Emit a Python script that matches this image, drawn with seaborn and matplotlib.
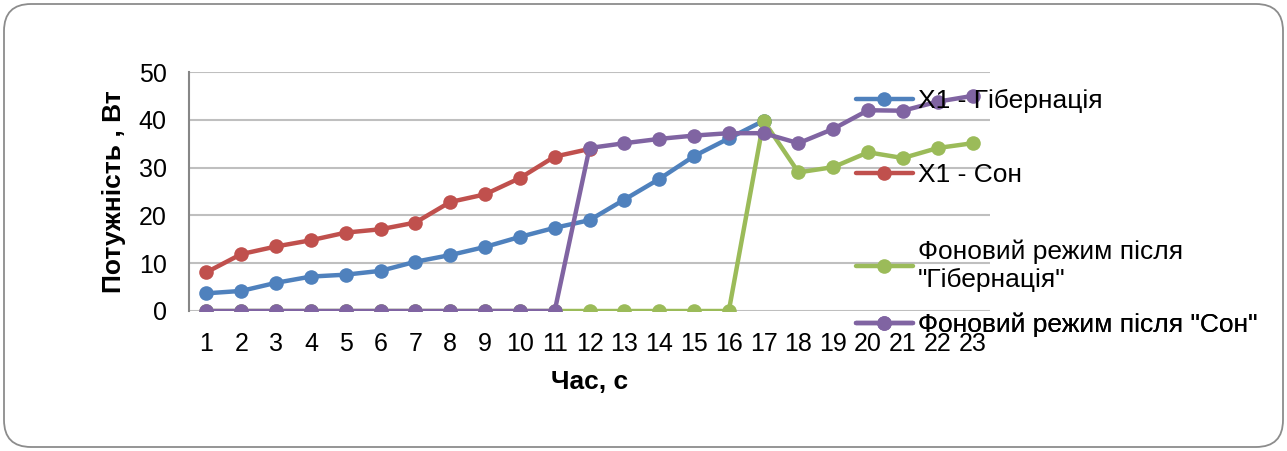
import numpy as np
import pandas as pd
import matplotlib
matplotlib.use('Agg')
import matplotlib.pyplot as plt
import seaborn as sns
from matplotlib.patches import FancyBboxPatch

# Data
hours = list(range(1, 24))
x1_hibernation = [3.7, 4.2, 5.9, 7.2, 7.6, 8.4, 10.3, 11.7, 13.4, 15.5, 17.4, 19.0,
                  23.3, 27.6, 32.4, 36.1, 39.8]
x1_sleep = [8.1, 11.9, 13.5, 14.8, 16.4, 17.1, 18.5, 22.8, 24.4, 27.8, 32.3, 33.9]
bg_after_hibernation = [0, 0, 0, 0, 0, 0, 0, 0, 0, 0, 0, 0, 0, 0, 0, 0,
                        39.8, 29.0, 30.1, 33.2, 32.0, 34.1, 35.1]
bg_after_sleep = [0, 0, 0, 0, 0, 0, 0, 0, 0, 0, 0, 34.1, 35.1, 36.0, 36.7, 37.2,
                  37.2, 35.1, 38.1, 42.0, 41.9, 43.8, 45.0]

series_names = ['X1 - Гібернація', 'X1 - Сон',
                'Фоновий режим після\n"Гібернація"', 'Фоновий режим після "Сон"']
series_values = [x1_hibernation, x1_sleep, bg_after_hibernation, bg_after_sleep]
colors = ['#4F81BD', '#C0504D', '#9BBB59', '#8064A2']

sns.set_theme(style="whitegrid")
plt.rcParams['font.family'] = ['Liberation Sans', 'DejaVu Sans']
plt.rcParams['text.color'] = 'black'
plt.rcParams['axes.labelcolor'] = 'black'

fig = plt.figure(figsize=(12.87, 4.51), dpi=100)
ax = fig.add_axes([189 / 1287, 1 - 311 / 451, (990 - 189) / 1287, (311 - 72) / 451])
ax.set_facecolor('white')

for name, vals, col in zip(series_names, series_values, colors):
    df = pd.DataFrame({'x': hours[:len(vals)], 'y': vals})
    sns.lineplot(data=df, x='x', y='y', ax=ax, color=col, linewidth=3.2,
                 marker='o', markersize=10.5, markeredgewidth=0, label=name)

ax.set_xlim(0.5, 23.5)
ax.set_ylim(0, 50)
ax.set_xticks(hours)
ax.set_yticks([0, 10, 20, 30, 40, 50])
ax.tick_params(axis='x', length=0, pad=15, labelsize=18, colors='black')
ax.tick_params(axis='y', length=0, pad=16, labelsize=18, colors='black')
ax.grid(axis='x', visible=False)
ax.grid(axis='y', color='#BFBFBF', linewidth=1.5)
for s in ['top', 'right', 'bottom']:
    ax.spines[s].set_visible(False)
ax.spines['left'].set_color('#868686')
ax.spines['left'].set_linewidth(1.5)

ax.set_xlabel('Час, с', fontsize=19, fontweight='bold', labelpad=10, color='black')
ax.set_ylabel('Потужність , Вт', fontsize=19, fontweight='bold', labelpad=9, color='black')

# one legend per entry so the uneven spacing of the original can be kept
handles, labels = ax.get_legend_handles_labels()
ax.get_legend().remove()
legend_rows = [101, 175, 266, 325]
for h, lab, row in zip(handles, labels, legend_rows):
    lg = ax.legend([h], [lab], loc='center left',
                   bbox_to_anchor=(856 / 1287, 1 - row / 451),
                   bbox_transform=fig.transFigure, frameon=False, fontsize=19,
                   handlelength=2.15, handletextpad=0.2,
                   borderaxespad=0, borderpad=0, labelcolor='black')
    ax.add_artist(lg)

# rounded outer frame
frame = FancyBboxPatch((0.04, 0.04), 12.79, 4.43, transform=fig.dpi_scale_trans,
                       boxstyle='round,pad=0,rounding_size=0.27', facecolor='none',
                       edgecolor='#8C8C8C', linewidth=1.3)
fig.patches.append(frame)

fig.savefig('out.png', dpi=100)
